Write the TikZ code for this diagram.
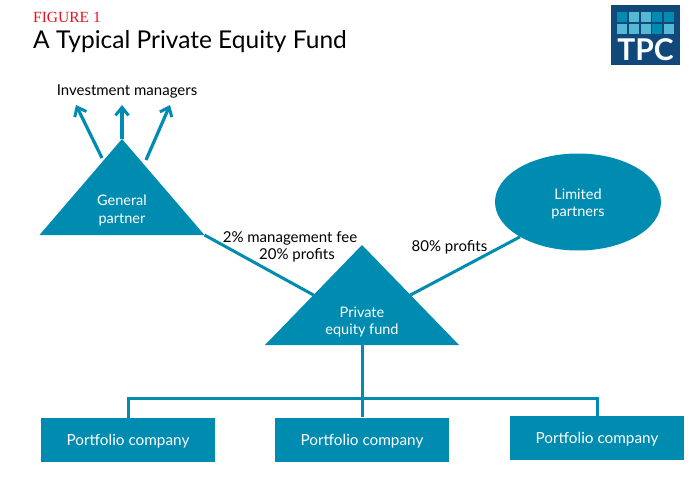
\documentclass[tikz,border=0pt]{standalone}
\usepackage{fontspec}
\setmainfont{Lato}
\newfontfamily\figfont{Liberation Serif}
\usetikzlibrary{shapes.geometric, arrows.meta, positioning, calc}
\definecolor{tpcteal}{RGB}{0,139,176}
\definecolor{tpcnavy}{RGB}{17,72,122}
\definecolor{tpclight}{RGB}{85,184,212}
\definecolor{figred}{RGB}{230,20,30}

\begin{document}
\begin{tikzpicture}[
    x=1pt, y=-1pt,
    % styles
    >={Straight Barb[length=8pt,width=13pt,line width=3pt]},
    tri/.style={fill=tpcteal, isosceles triangle, isosceles triangle stretches, shape border rotate=90, inner sep=0pt, outer sep=0pt, anchor=lower side},
    company/.style={fill=tpcteal, text=white, minimum width=174pt, minimum height=44pt, inner sep=0pt, text depth=0pt, font=\fontsize{15.3}{18}\selectfont},
    inlabel/.style={text=white, align=center, font=\fontsize{14.5}{17.5}\selectfont},
    outlabel/.style={text=black, align=center, font=\fontsize{15}{17.5}\selectfont},
    link/.style={draw=tpcteal, line width=3pt},
    arrowlink/.style={->, draw=tpcteal, line width=3.2pt},
    cell/.style={minimum size=10pt, inner sep=0pt}
]
    \useasboundingbox (0,0) rectangle (691,479);

    % title
    \node[anchor=base west, inner sep=0pt, text=figred, font=\figfont\fontsize{15.5}{18}\selectfont] (FigNum) at (33,22) {FIGURE 1};
    \node[anchor=base west, inner sep=0pt, font=\fontsize{24.5}{30}\selectfont] (Title) at (33,48) {A Typical Private Equity Fund};

    % logo
    \node[fill=tpcnavy, minimum width=69pt, minimum height=60pt, inner sep=0pt] (Logo) at (645.5,35) {};
    \foreach \col/\row/\shade in {0/0/tpcteal, 1/0/tpclight, 2/0/tpclight, 3/0/tpcteal, 4/0/tpcteal,
                                  0/1/tpclight, 1/1/tpclight, 2/1/tpclight, 3/1/tpcteal, 4/1/tpclight}
        \node[cell, fill=\shade] (C\col\row) at ({622+11.8*\col},{17+11.7*\row}) {};
    \node[text=white, inner sep=0pt, font=\bfseries\fontsize{30}{32}\selectfont] (LogoText) at (645.5,50) {TPC};

    % triangles and ellipse
    \node[tri, minimum width=165pt, minimum height=96pt] (GP) at (122,235) {};
    \node[inlabel] (GPText) at (122,210.5) {General\\partner};
    \node[tri, minimum width=194pt, minimum height=100pt] (Fund) at (362,345) {};
    \node[inlabel] (FundText) at (362,322) {Private\\equity fund};
    \node[ellipse, fill=tpcteal, inner sep=0pt, minimum width=166pt, minimum height=97pt] (LP) at (578,202) {};
    \node[inlabel] (LPText) at (578,204) {Limited\\partners};

    % boxes
    \node[company] (PC1) at (128,440) {Portfolio company};
    \node[company] (PC2) at (362,439.5) {Portfolio company};
    \node[company] (PC3) at (597,438) {Portfolio company};

    % labels
    \node[outlabel] (IM) at (127,91.5) {Investment managers};
    \node[outlabel] (Fee) at (290,238) {2\% management fee};
    \node[outlabel] (Carry) at (297,255) {20\% profits};
    \node[outlabel] (Share) at (449.5,247) {80\% profits};

    % connectors
    \coordinate (A1) at (102,158);
    \coordinate (A1e) at (76,105);
    \coordinate (A2e) at (122,105);
    \coordinate (A3) at (146,160);
    \coordinate (A3e) at (170,105);
    \draw[arrowlink] (A1) -- (A1e);
    \draw[arrowlink] (GP.apex) -- (A2e);
    \draw[arrowlink] (A3) -- (A3e);
    \draw[link] (GP.right corner) -- ($(Fund.apex)!0.5!(Fund.left corner)$);
    \draw[link] ($(Fund.apex)!0.5!(Fund.right corner)$) -- (LP.211);
    \coordinate (Bus) at (362,398);
    \draw[link] (Fund.lower side) -- (PC2.north);
    \draw[link] (PC1.north) |- (Bus) -| (PC3.north);
\end{tikzpicture}
\end{document}
